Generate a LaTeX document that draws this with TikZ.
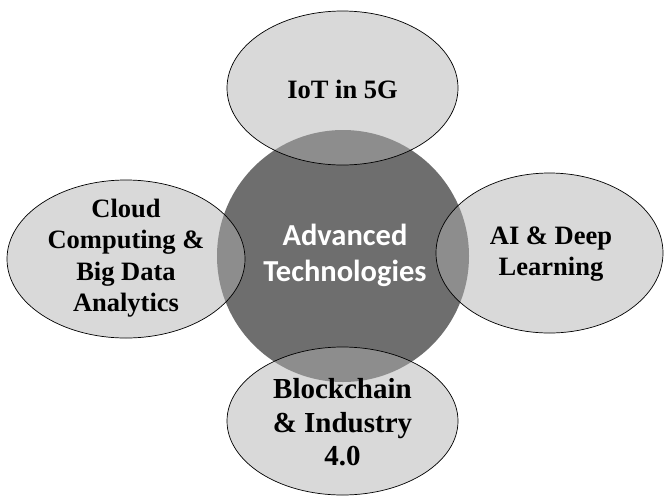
\documentclass[tikz,border=0pt]{standalone}
\usepackage{fontspec}
\setmainfont{Liberation Serif}
\newfontfamily\centerfont{Carlito}
\definecolor{ellfill}{HTML}{B0B0B0}
\definecolor{corefill}{HTML}{6E6E6E}
\begin{document}
\begin{tikzpicture}[x=1pt,y=-1pt,
  topic/.style={draw=black, line width=0.7pt, fill=ellfill, fill opacity=0.48},
  topictext/.style={align=center, font=\fontsize{26.5}{31.5}\selectfont\bfseries, text=black},
  bigtopictext/.style={align=center, font=\fontsize{29}{33.5}\selectfont\bfseries, text=black},
  coretext/.style={align=center, font=\centerfont\fontsize{30.5}{36}\selectfont\bfseries, text=white}]
\useasboundingbox[fill=white] (0,0) rectangle (664,499);
% central circle
\fill[corefill] (343,256) circle[radius=126];
\node[coretext] (core) at (345,255) {Advanced\\Technologies};
% surrounding ellipses
\path[topic] (342.5,88) ellipse[x radius=115.5, y radius=77];
\path[topic] (126,259) ellipse[x radius=119, y radius=79];
\path[topic] (549.5,253) ellipse[x radius=113.5, y radius=80];
\path[topic] (342.5,421) ellipse[x radius=115.5, y radius=74];
\node[topictext] (iot) at (342.5,89) {IoT in 5G};
\node[topictext] (cloud) at (126,258) {Cloud\\Computing \&\\Big Data\\Analytics};
\node[topictext] (ai) at (551,254) {AI \& Deep\\Learning};
\node[bigtopictext] (bc) at (342.5,422.5) {Blockchain\\\& Industry\\4.0};
\end{tikzpicture}
\end{document}
